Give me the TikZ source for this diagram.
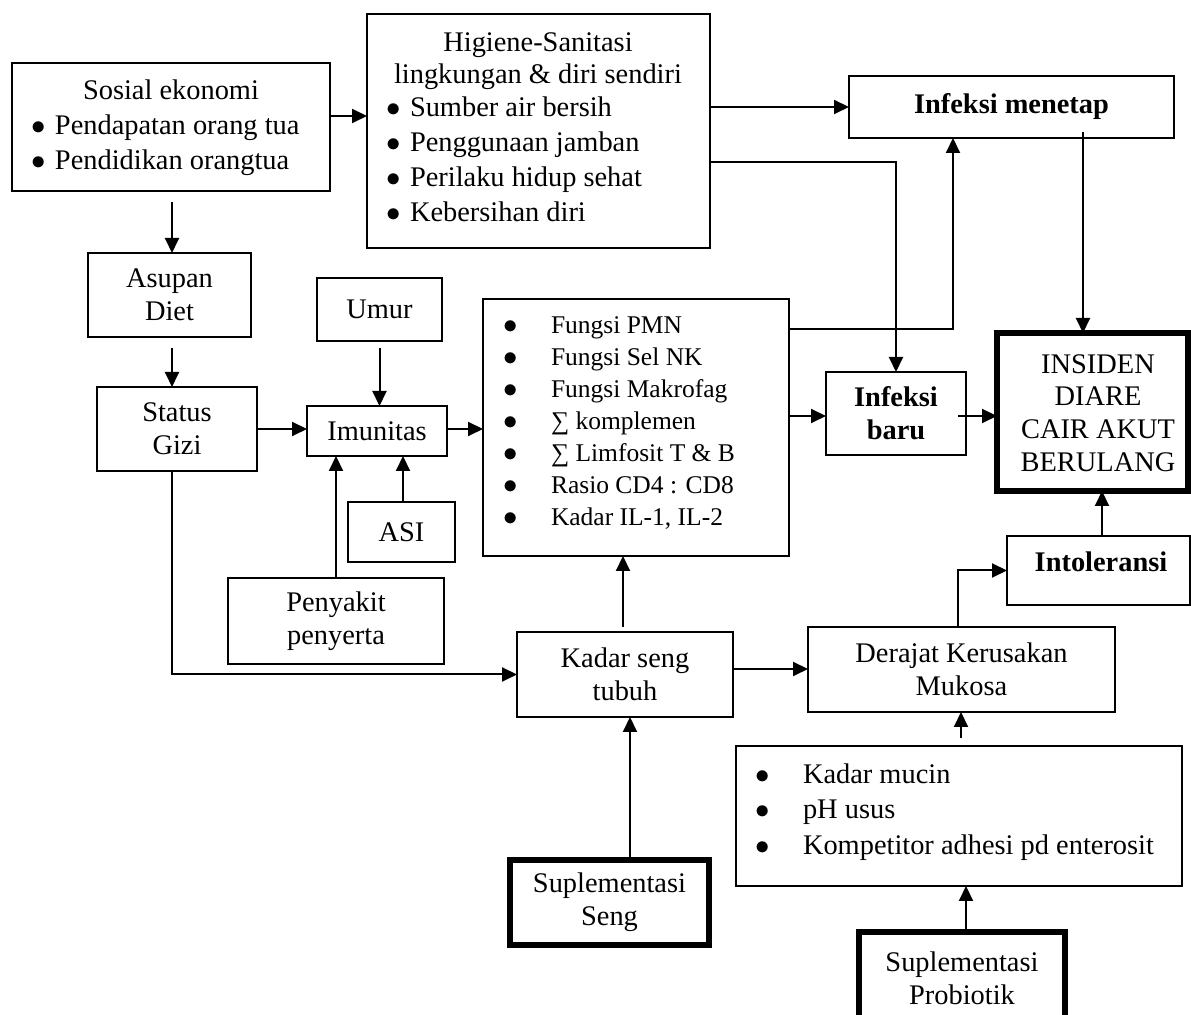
\documentclass[tikz,border=0pt]{standalone}
\usepackage{fontspec}
\setmainfont{Liberation Serif}
\usetikzlibrary{arrows.meta,calc}
\tikzset{
  box/.style={draw, line width=1pt, rectangle, inner sep=0pt, outer sep=0pt, align=center,
    font=\fontsize{14.2pt}{16.5pt}\selectfont},
  thickbox/.style={line width=2.6pt},
  boldtxt/.style={font=\fontsize{14.2pt}{16.5pt}\selectfont\bfseries},
  txt/.style={inner sep=0pt, outer sep=0pt, anchor=base west, font=\fontsize{14.2pt}{17pt}\selectfont},
  ctxt/.style={txt, anchor=base},
  smalltxt/.style={font=\fontsize{12.75pt}{16pt}\selectfont},
  arr/.style={line width=1pt, -{Triangle[length=7.5pt,width=7pt]}},
}
% #1 options, #2 name, #3 left, #4 top, #5 right, #6 bottom, #7 text
\newcommand\zbox[7][]{\node[box,#1,minimum width={(#5-#3)*0.5pt},minimum height={(#6-#4)*0.5pt}] (#2) at ({(#3+#5)/2},{(#4+#6)/2}) {#7};}
% #1 options, #2 name, #3 x, #4 baseline y, #5 gap, #6 text
\newcommand\zbul[6]{\node[txt,#1] (#2) at (#3,#4) {\makebox[#5][l]{\fontsize{14.2pt}{17pt}\selectfont$\bullet$}#6};}
\begin{document}
\begin{tikzpicture}[x=0.5pt,y=-0.5pt]
\useasboundingbox (0,0) rectangle (1191,1015);

% Sosial ekonomi
\zbox{sosial}{12}{63}{330}{191}{}
\node[ctxt] (sosial-t) at (171,100) {Sosial ekonomi};
\zbul{}{sosial-a}{32}{135}{11.5pt}{Pendapatan orang tua}
\zbul{}{sosial-b}{32}{170}{11.5pt}{Pendidikan orangtua}

% Higiene
\zbox{higiene}{367}{14}{710}{248}{}
\node[ctxt] (hig-t1) at (538,52) {Higiene-Sanitasi};
\node[ctxt] (hig-t2) at (538,84) {lingkungan \& diri sendiri};
\zbul{}{hig-a}{386}{117}{12pt}{Sumber air bersih}
\zbul{}{hig-b}{386}{152}{12pt}{Penggunaan jamban}
\zbul{}{hig-c}{386}{187}{12pt}{Perilaku hidup sehat}
\zbul{}{hig-d}{386}{222}{12pt}{Kebersihan diri}

\zbox[boldtxt]{menetap}{849}{76}{1174}{138}{Infeksi menetap}
\zbox{asupan}{88}{253}{251}{337}{Asupan\\Diet}
\zbox{umur}{317}{278}{442}{341}{Umur}

% Fungsi list
\zbox{fungsi}{483}{299}{789}{556}{}
\zbul{smalltxt}{f1}{503}{334}{24pt}{Fungsi PMN}
\zbul{smalltxt}{f2}{503}{366}{24pt}{Fungsi Sel NK}
\zbul{smalltxt}{f3}{503}{398}{24pt}{Fungsi Makrofag}
\zbul{smalltxt}{f4}{503}{430}{24pt}{∑ komplemen}
\zbul{smalltxt}{f5}{503}{462}{24pt}{∑ Limfosit T \& B}
\zbul{smalltxt}{f6}{503}{494}{24pt}{Rasio CD4 : CD8}
\zbul{smalltxt}{f7}{503}{526}{24pt}{Kadar IL-1, IL-2}

\zbox{status}{97}{387}{257}{471}{Status\\Gizi}
\zbox{imun}{307}{406}{447}{456}{Imunitas}
\zbox[boldtxt]{baru}{826}{372}{966}{455}{Infeksi\\baru}

\zbox[thickbox]{insiden}{997}{333}{1188}{491}{}
\node[inner sep=0pt, align=center, font=\fontsize{14.2pt}{16.35pt}\selectfont] (insiden-t) at (1098,413) {INSIDEN\\DIARE\\CAIR AKUT\\BERULANG};

\zbox{asi}{348}{502}{455}{562}{ASI}
\zbox{intol}{1007}{536}{1190}{605}{}
\node[ctxt,boldtxt] (intol-t) at (1101,572) {Intoleransi};
\zbox{penyakit}{228}{578}{444}{664}{Penyakit\\penyerta}
\zbox{kadar}{517}{632}{733}{717}{Kadar seng\\tubuh}
\zbox{derajat}{808}{627}{1115}{712}{Derajat Kerusakan\\Mukosa}

% mucin list
\zbox{mucin}{736}{746}{1182}{886}{}
\zbul{}{m1}{755}{784}{24pt}{Kadar mucin}
\zbul{}{m2}{755}{819}{24pt}{pH usus}
\zbul{}{m3}{755}{855}{24pt}{Kompetitor adhesi pd enterosit}

\zbox[thickbox]{supseng}{510}{860}{709}{945}{Suplementasi\\Seng}
\zbox[thickbox]{prob}{859}{932}{1065}{1025}{Suplementasi\\Probiotik}

% connectors
\draw[arr] ([yshift=5.5pt]sosial.east) -- ([yshift=5.5pt]sosial.east -| higiene.west);
\draw[arr] ([xshift=0.5pt,yshift=-5.5pt]sosial.south) -- ([xshift=0.5pt]sosial.south |- asupan.north);
\draw[arr] ([xshift=1.25pt,yshift=-5.5pt]asupan.south) -- ([xshift=1.25pt]asupan.south |- status.north);
\draw[arr] (status.east) -- (status.east -| imun.west);
\draw[arr] ([yshift=-3.5pt]umur.south) -- (umur.south |- imun.north);
\draw[arr] (imun.east |- status.east) -- (status.east -| fungsi.west);
\draw[arr] ([xshift=0.75pt]asi.north) -- ([xshift=0.75pt]asi.north |- imun.south);
\draw[arr] (penyakit.north) -- (penyakit.north |- imun.south);
\draw[arr] ([xshift=-2.5pt]status.south) |- (kadar.west);
\draw[arr] ([xshift=-1pt,yshift=2.5pt]kadar.north) -- ([xshift=-1pt]kadar.north |- fungsi.south);
\draw[arr] ([yshift=2.75pt]kadar.east) -- ([yshift=2.75pt]kadar.east -| derajat.west);
\draw[arr] ([xshift=10.25pt]supseng.north) -- ([xshift=10.25pt]supseng.north |- kadar.south);
\draw[arr] ([yshift=-1.25pt]fungsi.east |- baru.west) -- ([yshift=-1.25pt]baru.west);
\draw[arr] ([yshift=-15pt]fungsi.north east) -| ([xshift=-29.25pt]menetap.south);
\draw[arr] (higiene.east |- menetap.west) -- (menetap.west);
\draw[arr] ([yshift=-15.5pt]higiene.east) -| (baru.north);
\draw[arr] ([xshift=35.75pt,yshift=3pt]menetap.south) -- ([xshift=35.75pt]menetap.south |- insiden.north);
\draw[arr] ([xshift=-4pt,yshift=-1.25pt]baru.east) -- ([yshift=-1.25pt]baru.east -| insiden.west);
\draw[arr] ([xshift=1.75pt]intol.north) -- ([xshift=1.75pt]intol.north |- insiden.south);
\draw[arr] ([xshift=-1.75pt]derajat.north) |- (intol.west);
\draw[arr] ([xshift=1pt,yshift=4pt]mucin.north) -- ([xshift=1pt]mucin.north |- derajat.south);
\draw[arr] ([xshift=2pt]prob.north) -- ([xshift=2pt]prob.north |- mucin.south);
\end{tikzpicture}
\end{document}
